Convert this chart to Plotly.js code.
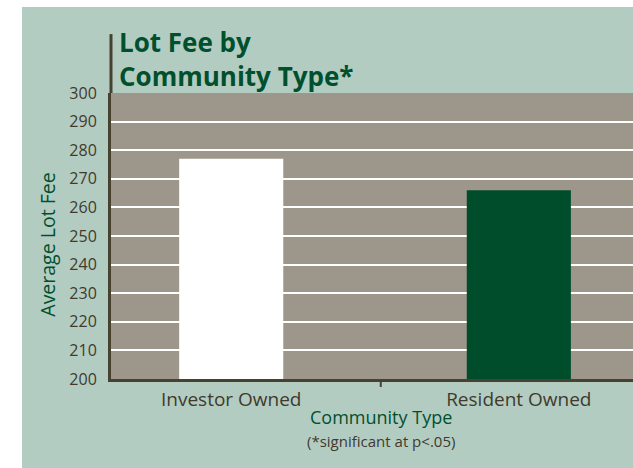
<!DOCTYPE html>
<html>
<head>
<meta charset="utf-8">
<script src="https://cdn.plot.ly/plotly-3.0.1.min.js"></script>
<style>
  html, body { margin: 0; padding: 0; background: #ffffff; width: 633px; height: 468px; overflow: hidden; }
  #chart { position: absolute; left: 22px; top: 7px; width: 611px; height: 461px; }
</style>
</head>
<body>
<div id="chart"></div>
<script>
const categories = ["Investor Owned", "Resident Owned"];
const lotFees = [277, 266];
const barColors = ["#ffffff", "#004d2c"];
const yTickValues = [200, 210, 220, 230, 240, 250, 260, 270, 280, 290, 300];
const titleLines = ["Lot Fee by", "Community Type*"];
const xTitle = "Community Type";
const yTitle = "Average Lot Fee";
const noteText = "(*significant at p<.05)";

const FONT = "'Open Sans', Lato, sans-serif";
const DARK = "#3f3a2c";
const GREEN = "#00502e";
const AXIS = "#47412f";

const trace = {
  type: "bar",
  x: categories,
  y: lotFees,
  width: 0.362,
  marker: { color: barColors, line: { width: 0 } },
  hoverinfo: "skip"
};

const layout = {
  width: 611,
  height: 461,
  margin: { l: 89, r: 0, t: 86, b: 89, pad: 0 },
  paper_bgcolor: "#b3ccc2",
  plot_bgcolor: "#9d968a",
  showlegend: false,
  font: { family: FONT, color: DARK },
  xaxis: {
    type: "category",
    range: [-0.418, 1.397],
    showgrid: false,
    zeroline: false,
    showline: true, linecolor: AXIS, linewidth: 3,
    ticks: "",
    tickfont: { family: FONT, size: 19, color: DARK },
    ticklabelstandoff: 1,
    fixedrange: true
  },
  yaxis: {
    range: [200, 300],
    tickvals: yTickValues,
    ticks: "",
    showgrid: true, gridcolor: "#ffffff", gridwidth: 2,
    zeroline: false,
    showline: true, linecolor: AXIS, linewidth: 3,
    tickfont: { family: FONT, size: 16, color: DARK },
    ticklabelstandoff: 8,
    fixedrange: true
  },
  shapes: [
    { type: "line", xref: "paper", yref: "paper", x0: 0, x1: 0, y0: 1, y1: 1.206,
      line: { color: AXIS, width: 3 } },
    { type: "line", xref: "x", yref: "paper", x0: 0.52, x1: 0.52, y0: 0, y1: -0.028,
      line: { color: AXIS, width: 2 } }
  ],
  annotations: [
    { text: "<b>" + titleLines.join("<br>") + "</b>", xref: "paper", yref: "paper",
      x: 0.012, y: 1.119, xanchor: "left", yanchor: "middle", align: "left", showarrow: false,
      font: { family: FONT, size: 26, color: GREEN } },
    { text: yTitle, xref: "paper", yref: "paper", textangle: -90,
      x: -0.121, y: 0.469, xanchor: "center", yanchor: "middle", showarrow: false,
      font: { family: FONT, size: 19.5, color: GREEN } },
    { text: xTitle, xref: "paper", yref: "paper",
      x: 0.517, y: -0.133, xanchor: "center", yanchor: "middle", showarrow: false,
      font: { family: FONT, size: 18, color: GREEN } },
    { text: noteText, xref: "paper", yref: "paper",
      x: 0.517, y: -0.217, xanchor: "center", yanchor: "middle", showarrow: false,
      font: { family: FONT, size: 15, color: DARK } }
  ]
};

Plotly.newPlot("chart", [trace], layout, { displayModeBar: false, staticPlot: true });
</script>
</body>
</html>
